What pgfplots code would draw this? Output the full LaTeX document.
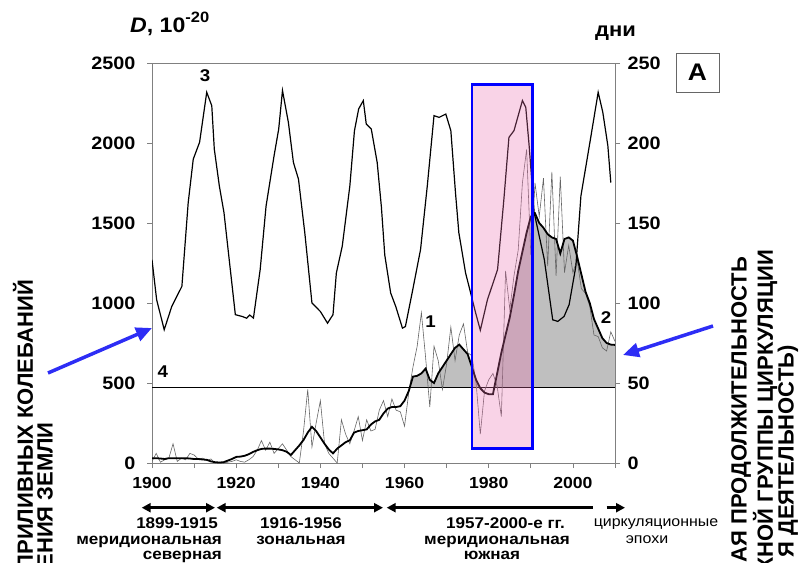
\documentclass[border=0pt]{standalone}
\usepackage{fontspec}
\setmainfont{Liberation Sans}[FakeStretch=1.1]
\newfontfamily\rotfont{Liberation Sans}
\usepackage{pgfplots}
\pgfplotsset{compat=1.18}
\usetikzlibrary{arrows.meta}
\definecolor{pinkP}{RGB}{235,110,175}
\definecolor{arrblue}{RGB}{45,45,245}
\newcommand{\fs}[1]{\fontsize{#1}{#1}\selectfont}
\begin{document}
\begin{tikzpicture}[x=1pt,y=1pt]
\path[use as bounding box] (0,0) rectangle (810,562);
\clip (0,0) rectangle (810,562);
\begin{axis}[
  at={(152pt,99pt)}, anchor=south west, scale only axis,
  width=463pt, height=400pt,
  xmin=1900, xmax=2010, ymin=0, ymax=2500,
  xtick={1900,1920,...,2000}, minor xtick={1910,1930,...,2010},
  ytick={0,500,...,2500},
  xtick pos=bottom, ytick pos=left,
  tick align=outside, major tick length=5pt, minor tick length=5pt,
  axis line style={black!50, line width=0.8pt},
  tick style={black!50, line width=0.8pt},
  /pgf/number format/assume math mode=true,
  /pgf/number format/1000 sep={},
  xticklabel style={font=\bfseries\fs{16}, yshift=-6pt},
  yticklabel style={font=\bfseries\fs{18}, xshift=-8pt},
]
% gray fill above line 4
\addplot[draw=none, fill=black!25] coordinates {
(1961.22,470)(1962,540)(1963,545)(1964,560)(1965,590)(1966,520)(1967,500)(1968,560)(1969,600)(1970,640)(1971,680)(1972,720)(1973,740)(1974,710)(1975,680)(1976,600)(1977,520)(1977.94,470)} -- cycle;
\addplot[draw=none, fill=black!25] coordinates {
(1981.31,470)(1982,560)(1983,690)(1984,800)(1985,910)(1986,1050)(1987,1200)(1988,1320)(1989,1440)(1990,1540)(1991,1560)(1992,1500)(1993,1470)(1994,1430)(1995,1410)(1996,1400)(1997,1310)(1998,1400)(1999,1410)(2000,1390)(2001,1290)(2002,1180)(2003,1070)(2004,1000)(2005,900)(2006,840)(2007,780)(2008,750)(2009,740)(2010,738)(2010,470)} -- cycle;
% line 4
\addplot[black, line width=1.3pt] coordinates {(1900,470)(2010,470)};
% thin annual line
\addplot[black!60, line width=0.6pt] coordinates {
(1900,10)(1901,60)(1902,5)(1903,20)(1904,30)(1905,120)(1906,10)(1907,30)(1908,20)(1909,60)(1910,50)(1911,25)(1912,30)(1913,15)(1914,25)(1915,0)(1916,5)(1917,0)(1918,5)(1919,10)(1920,20)(1921,10)(1922,5)(1923,20)(1924,40)(1925,80)(1926,140)(1927,80)(1928,130)(1929,60)(1930,90)(1931,120)(1932,80)(1933,40)(1934,20)(1935,0)(1936,200)(1937,460)(1938,100)(1939,250)(1940,390)(1941,120)(1942,60)(1943,30)(1944,0)(1945,270)(1946,180)(1947,120)(1948,200)(1949,290)(1950,140)(1951,270)(1952,200)(1953,210)(1954,330)(1955,390)(1956,290)(1957,400)(1958,330)(1959,320)(1960,230)(1961,440)(1962,600)(1963,730)(1964,940)(1965,660)(1966,350)(1967,730)(1968,640)(1969,460)(1970,620)(1971,850)(1972,640)(1973,800)(1974,870)(1975,690)(1976,670)(1977,500)(1978,180)(1979,450)(1980,520)(1981,560)(1982,480)(1983,290)(1984,1200)(1985,960)(1986,1170)(1987,1330)(1988,1750)(1989,1960)(1990,1300)(1991,1750)(1992,1540)(1993,1780)(1994,1230)(1995,1820)(1996,1170)(1997,1790)(1998,1190)(1999,1360)(2000,1190)(2001,1270)(2002,1090)(2003,1060)(2004,980)(2005,800)(2006,790)(2007,720)(2008,700)(2009,820)(2010,760)};
% smoothed line
\addplot[black, line width=1.8pt] coordinates {
(1900,30)(1901,30)(1902,28)(1903,25)(1904,30)(1905,30)(1906,30)(1907,30)(1908,30)(1909,28)(1910,25)(1911,25)(1912,22)(1913,20)(1914,10)(1915,5)(1916,3)(1917,5)(1918,15)(1919,25)(1920,38)(1921,40)(1922,45)(1923,55)(1924,69)(1925,80)(1926,88)(1927,90)(1928,90)(1929,88)(1930,85)(1931,80)(1932,70)(1933,50)(1934,80)(1935,110)(1936,144)(1937,190)(1938,226)(1939,200)(1940,160)(1941,120)(1942,85)(1943,60)(1944,90)(1945,110)(1946,130)(1947,142)(1948,190)(1949,200)(1950,205)(1951,210)(1952,240)(1953,260)(1954,270)(1955,310)(1956,340)(1957,350)(1958,350)(1959,355)(1960,390)(1961,450)(1962,540)(1963,545)(1964,560)(1965,590)(1966,520)(1967,500)(1968,560)(1969,600)(1970,640)(1971,680)(1972,720)(1973,740)(1974,710)(1975,680)(1976,600)(1977,520)(1978,467)(1979,440)(1980,430)(1981,430)(1982,560)(1983,690)(1984,800)(1985,910)(1986,1050)(1987,1200)(1988,1320)(1989,1440)(1990,1540)(1991,1560)(1992,1500)(1993,1470)(1994,1430)(1995,1410)(1996,1400)(1997,1310)(1998,1400)(1999,1410)(2000,1390)(2001,1290)(2002,1180)(2003,1070)(2004,1000)(2005,900)(2006,840)(2007,780)(2008,750)(2009,740)(2010,738)};
% tidal curve 3
\addplot[black, line width=1.2pt] coordinates {
(1900,1270)(1901.1,1021)(1902.9,833)(1904.7,979)(1907.1,1104)(1908.6,1627)(1909.8,1899)(1911.3,2004)(1913.0,2317)(1914.2,2233)(1914.8,1962)(1916.0,1731)(1917.1,1565)(1919.8,927)(1921.4,916)(1922.5,905)(1923.2,925)(1924.1,906)(1925.7,1209)(1927.1,1606)(1929.0,1920)(1930.1,2087)(1931.0,2328)(1932.4,2129)(1933.6,1878)(1934.8,1774)(1936.3,1439)(1938.0,1000)(1940.0,947)(1941.7,874)(1943.0,927)(1943.8,1188)(1945.2,1355)(1947.0,1731)(1948.1,2077)(1949.1,2213)(1950.2,2265)(1950.9,2119)(1952.1,2087)(1953.5,1878)(1954.5,1600)(1955.3,1300)(1956.7,1063)(1957.9,979)(1959.5,843)(1960.2,853)(1961.8,1063)(1963.8,1334)(1965.4,1731)(1967.0,2171)(1968.2,2160)(1969.8,2181)(1971.0,2077)(1972.1,1690)(1972.9,1439)(1974.5,1188)(1975.7,1063)(1976.9,937)(1978.0,830)(1979.7,1021)(1982.1,1209)(1983.6,1648)(1984.8,2035)(1986.0,2077)(1988.0,2265)(1988.8,2223)(1989.6,1983)(1990.8,1564)(1993.2,1272)(1995.2,895)(1996.4,885)(1997.9,916)(1999.1,990)(2000.7,1230)(2001.9,1669)(2003.1,1857)(2004.3,2045)(2006.0,2317)(2007.1,2192)(2008.3,1983)(2009.0,1753)};
% pink box
\fill[pinkP, opacity=0.3] (axis cs:1976,90) rectangle (axis cs:1990.4,2365);
\draw[blue, line width=2.5pt] (axis cs:1976,90) rectangle (axis cs:1990.4,2365);
% curve labels
\node[font=\bfseries\fs{17}] at (axis cs:1912.6,2422) {3};
\node[font=\bfseries\fs{17}] at (axis cs:1966.2,885) {1};
\node[font=\bfseries\fs{17}] at (axis cs:2007.9,908) {2};
\node[font=\bfseries\fs{17}] at (axis cs:1902.6,570) {4};
\end{axis}
\begin{axis}[
  at={(152pt,99pt)}, anchor=south west, scale only axis,
  width=463pt, height=400pt,
  xmin=1900, xmax=2010, ymin=0, ymax=250,
  axis x line=none, axis y line*=right,
  ytick={0,50,...,250},
  tick align=outside, major tick length=5pt,
  axis line style={black!50, line width=0.8pt},
  tick style={black!50, line width=0.8pt},
  /pgf/number format/assume math mode=true,
  yticklabel style={font=\bfseries\fs{18}, xshift=4pt},
]
\addplot[draw=none] coordinates {(1900,0)};
\end{axis}
% titles
\node[anchor=base west, inner sep=0, font=\bfseries\fs{21}] at (130,529) {\textit{D}, 10\raisebox{10pt}{\fs{15}-20}};
\node[anchor=base west, inner sep=0, font=\bfseries\fs{20}] at (595,525) {дни};
% A box
\draw[black!60, line width=0.8pt] (676,470) rectangle (719,509);
\node[font=\bfseries\fs{24}] at (697.5,489.5) {A};
% blue arrows
\draw[arrblue, line width=3.5pt, -{Triangle[length=16pt,width=14pt]}] (48,189) -- (152,234);
\draw[arrblue, line width=3.5pt, -{Triangle[length=16pt,width=14pt]}] (713,236) -- (623,207);
% epoch arrows
\draw[black, line width=2.5pt, {Triangle[length=9pt,width=9pt]}-{Triangle[length=9pt,width=9pt]}] (141.7,54.3) -- (215,54.3);
\draw[black, line width=2.5pt, {Triangle[length=9pt,width=9pt]}-{Triangle[length=9pt,width=9pt]}] (216.7,54.3) -- (383,54.3);
\draw[black, line width=2.5pt, {Triangle[length=9pt,width=9pt]}-] (386.7,54.3) -- (593,54.3);
\draw[black, line width=2.5pt, -{Triangle[length=9pt,width=9pt]}] (606.7,54.3) -- (625,54.3);
% epoch texts
\begin{scope}[every node/.style={inner sep=0, font=\bfseries\fs{15.5}}]
\node[anchor=base east] at (218,34) {1899-1915};
\node[anchor=base east] at (222,17.5) {меридиональная};
\node[anchor=base east] at (222,2.5) {северная};
\node[anchor=base] at (301,34) {1916-1956};
\node[anchor=base] at (301,17.5) {зональная};
\node[anchor=base] at (505.5,34) {1957-2000-е гг.};
\node[anchor=base] at (497,17.5) {меридиональная};
\node[anchor=base] at (492,2.5) {южная};
\end{scope}
\node[anchor=base, inner sep=0, font=\fs{14.5}] at (656,36) {циркуляционные};
\node[anchor=base, inner sep=0, font=\fs{14.5}] at (647,19) {эпохи};
% rotated side texts
\begin{scope}[every node/.style={inner sep=0, rotate=90, anchor=east, font=\rotfont\bfseries\fs{22}}]
\node at (23,282) {ПРИЛИВНЫХ КОЛЕБАНИЙ};
\node at (45,140) {ЕНИЯ  ЗЕМЛИ};
\node at (741,305) {АЯ  ПРОДОЛЖИТЕЛЬНОСТЬ};
\node at (765,312) {ЖНОЙ  ГРУППЫ  ЦИРКУЛЯЦИИ};
\node at (788,217) {Я  ДЕЯТЕЛЬНОСТЬ)};
\end{scope}
\end{tikzpicture}
\end{document}
